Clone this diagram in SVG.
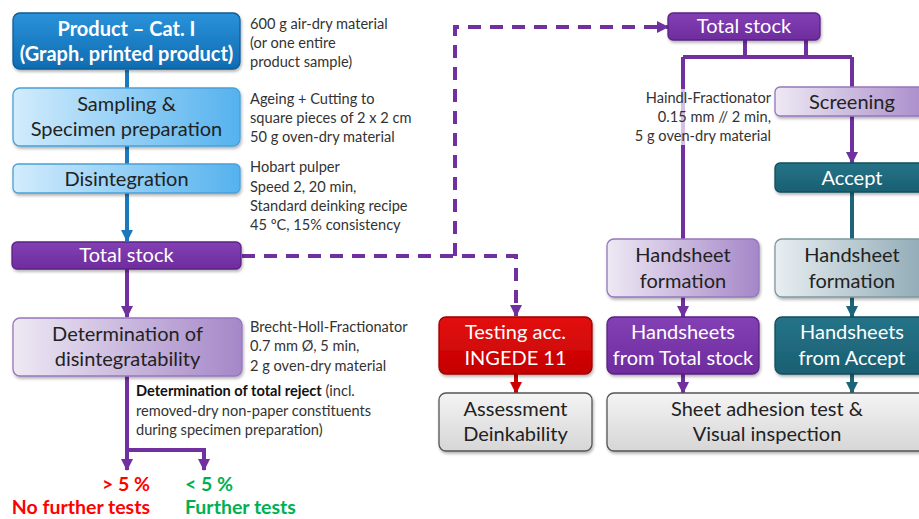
<svg xmlns="http://www.w3.org/2000/svg" width="919" height="519" viewBox="0 0 919 519">
<defs>
<style>
.box{stroke-width:1.3}
.t{font-family:Lato,"Open Sans","Liberation Sans",sans-serif;font-size:20px;text-anchor:middle;fill:#222}
.tw{font-family:Lato,"Open Sans","Liberation Sans",sans-serif;font-size:20px;text-anchor:middle;fill:#fff}
.a{font-family:Lato,"Open Sans","Liberation Sans",sans-serif;font-size:14.6px;fill:#333}
.res{font-family:Lato,"Open Sans","Liberation Sans",sans-serif;font-size:19.5px;font-weight:bold}
.pl{stroke:#7030a0;stroke-width:4;fill:none}
.bl{stroke:#1a78be;stroke-width:4;fill:none}
.tl{stroke:#1d6478;stroke-width:4;fill:none}
.rl{stroke:#cc0000;stroke-width:4;fill:none}
.dash{stroke:#7030a0;stroke-width:4;fill:none;stroke-dasharray:13 9}
</style>
<linearGradient id="gBlue" x1="0" y1="0" x2="0" y2="1"><stop offset="0" stop-color="#2a92da"/><stop offset="1" stop-color="#0f6cb2"/></linearGradient>
<linearGradient id="gLBlue" x1="0" y1="0" x2="1" y2="0"><stop offset="0" stop-color="#d2ecfc"/><stop offset="1" stop-color="#55b2ee"/></linearGradient>
<linearGradient id="gPurple" x1="0" y1="0" x2="0" y2="1"><stop offset="0" stop-color="#8340b4"/><stop offset="1" stop-color="#6e2c9e"/></linearGradient>
<linearGradient id="gLPurple" x1="0" y1="0" x2="1" y2="0"><stop offset="0" stop-color="#eee9f4"/><stop offset="1" stop-color="#a587c8"/></linearGradient>
<linearGradient id="gTeal" x1="0" y1="0" x2="0" y2="1"><stop offset="0" stop-color="#257388"/><stop offset="1" stop-color="#1b5f72"/></linearGradient>
<linearGradient id="gLTeal" x1="0" y1="0" x2="1" y2="0"><stop offset="0" stop-color="#e8eef1"/><stop offset="1" stop-color="#8aa6b2"/></linearGradient>
<linearGradient id="gRed" x1="0" y1="0" x2="0" y2="1"><stop offset="0" stop-color="#e41010"/><stop offset="1" stop-color="#c40000"/></linearGradient>
<linearGradient id="gGrey" x1="0" y1="0" x2="0" y2="1"><stop offset="0" stop-color="#f4f4f4"/><stop offset="1" stop-color="#d6d6d6"/></linearGradient>
<filter id="sh" x="-10%" y="-20%" width="120%" height="150%"><feDropShadow dx="1" dy="2" stdDeviation="1.5" flood-color="#000" flood-opacity="0.3"/></filter>
<marker id="mP" markerUnits="userSpaceOnUse" markerWidth="14" markerHeight="12" refX="11" refY="6" orient="auto"><path d="M0,0 L12,6 L0,12 Z" fill="#7030a0"/></marker>
<marker id="mB" markerUnits="userSpaceOnUse" markerWidth="14" markerHeight="12" refX="11" refY="6" orient="auto"><path d="M0,0 L12,6 L0,12 Z" fill="#1a78be"/></marker>
<marker id="mT" markerUnits="userSpaceOnUse" markerWidth="14" markerHeight="12" refX="11" refY="6" orient="auto"><path d="M0,0 L12,6 L0,12 Z" fill="#1d6478"/></marker>
<marker id="mR" markerUnits="userSpaceOnUse" markerWidth="14" markerHeight="12" refX="11" refY="6" orient="auto"><path d="M0,0 L12,6 L0,12 Z" fill="#cc0000"/></marker>
</defs>
<rect width="919" height="519" fill="#fff"/>

<g id="connectors">
<path class="bl" d="M127,70 V241" marker-end="url(#mB)"/>
<path class="pl" d="M127,269 V317" marker-end="url(#mP)"/>
<path class="pl" d="M127,376 V470" marker-end="url(#mP)"/>
<path class="pl" d="M127,450 H204 V470" marker-end="url(#mP)"/>
<path class="dash" d="M242,256 H516 V316" marker-end="url(#mP)"/>
<path class="dash" d="M455,256 V27 H668" marker-end="url(#mP)"/>
<path class="pl" d="M745,40 V57 M806,40 V57 M683,57 H852 M683,57 V239 M852,57 V87"/>
<path class="pl" d="M852,116 V163" marker-end="url(#mP)"/>
<path class="tl" d="M852,192 V239"/>
<path class="pl" d="M683,297 V317" marker-end="url(#mP)"/>
<path class="tl" d="M852,297 V317" marker-end="url(#mT)"/>
<path class="rl" d="M516,374 V393" marker-end="url(#mR)"/>
<path class="pl" d="M683,374 V393" marker-end="url(#mP)"/>
<path class="tl" d="M852,374 V393" marker-end="url(#mT)"/>
</g>

<g id="product">
<rect class="box" x="13" y="13" width="227" height="56" rx="7" fill="url(#gBlue)" stroke="#0d5c98" filter="url(#sh)"/>
<text class="tw" x="126.5" y="36" font-weight="bold" font-size="21px">Product – Cat. I</text>
<text class="tw" x="126.5" y="61" font-weight="bold" font-size="21px">(Graph. printed product)</text>
</g>
<g id="note-product">
<text class="a" x="250" y="29">600 g air-dry material</text>
<text class="a" x="250" y="48">(or one entire</text>
<text class="a" x="250" y="67">product sample)</text>
</g>

<g id="sampling">
<rect class="box" x="13" y="88" width="227" height="58" rx="7" fill="url(#gLBlue)" stroke="#4aa0d8" filter="url(#sh)"/>
<text class="t" x="126.5" y="111">Sampling &amp;</text>
<text class="t" x="126.5" y="136">Specimen preparation</text>
</g>
<g id="note-sampling">
<text class="a" x="250" y="104">Ageing + Cutting to</text>
<text class="a" x="250" y="123">square pieces of 2 x 2 cm</text>
<text class="a" x="250" y="142">50 g oven-dry material</text>
</g>

<g id="disintegration">
<rect class="box" x="13" y="164" width="227" height="29" rx="5" fill="url(#gLBlue)" stroke="#4aa0d8" filter="url(#sh)"/>
<text class="t" x="126.5" y="186">Disintegration</text>
</g>
<g id="note-disintegration">
<text class="a" x="250" y="172">Hobart pulper</text>
<text class="a" x="250" y="192">Speed 2, 20 min,</text>
<text class="a" x="250" y="211">Standard deinking recipe</text>
<text class="a" x="250" y="230">45 ºC, 15% consistency</text>
</g>

<g id="total-stock-left">
<rect class="box" x="12" y="242" width="229" height="27" rx="5" fill="url(#gPurple)" stroke="#5a2282" filter="url(#sh)"/>
<text class="tw" x="126.5" y="262">Total stock</text>
</g>

<g id="determination">
<rect class="box" x="13" y="318" width="229" height="58" rx="7" fill="url(#gLPurple)" stroke="#9677bd" filter="url(#sh)"/>
<text class="t" x="127.5" y="341">Determination of</text>
<text class="t" x="127.5" y="366">disintegratability</text>
</g>
<g id="note-determination">
<text class="a" x="250" y="332">Brecht-Holl-Fractionator</text>
<text class="a" x="250" y="351">0.7 mm Ø, 5 min,</text>
<text class="a" x="250" y="371">2 g oven-dry material</text>
</g>
<g id="note-reject">
<text class="a" x="136" y="396"><tspan font-weight="bold" fill="#111">Determination of total reject</tspan> (incl.</text>
<text class="a" x="136" y="416">removed-dry non-paper constituents</text>
<text class="a" x="136" y="435">during specimen preparation)</text>
</g>

<g id="result-high">
<text class="res" x="150" y="491" fill="#ff0000" text-anchor="end">&gt; 5 %</text>
<text class="res" x="150" y="514" fill="#ff0000" text-anchor="end">No further tests</text>
</g>
<g id="result-low">
<text class="res" x="185" y="491" fill="#00b050">&lt; 5 %</text>
<text class="res" x="185" y="514" fill="#00b050">Further tests</text>
</g>

<g id="total-stock-right">
<rect class="box" x="668" y="13" width="152" height="27" rx="5" fill="url(#gPurple)" stroke="#5a2282" filter="url(#sh)"/>
<text class="tw" x="744" y="33">Total stock</text>
</g>

<g id="note-haindl">
<rect x="636" y="89" width="136" height="56" fill="#fff" fill-opacity="0.7"/>
<text class="a" x="771" y="103" text-anchor="end">Haindl-Fractionator</text>
<text class="a" x="771" y="122" text-anchor="end">0.15 mm // 2 min,</text>
<text class="a" x="771" y="141" text-anchor="end">5 g oven-dry material</text>
</g>

<g id="screening">
<rect class="box" x="775" y="87" width="160" height="29" rx="5" fill="url(#gLPurple)" stroke="#9677bd" filter="url(#sh)"/>
<text class="t" x="852" y="109">Screening</text>
</g>

<g id="accept">
<rect class="box" x="775" y="163" width="160" height="29" rx="5" fill="url(#gTeal)" stroke="#144e5e" filter="url(#sh)"/>
<text class="tw" x="852" y="185">Accept</text>
</g>

<g id="handsheet-formation-total">
<rect class="box" x="607" y="239" width="152" height="58" rx="7" fill="url(#gLPurple)" stroke="#9677bd" filter="url(#sh)"/>
<text class="t" x="683" y="262">Handsheet</text>
<text class="t" x="683" y="288">formation</text>
</g>

<g id="handsheet-formation-accept">
<rect class="box" x="775" y="239" width="160" height="58" rx="7" fill="url(#gLTeal)" stroke="#7f98a3" filter="url(#sh)"/>
<text class="t" x="852" y="262">Handsheet</text>
<text class="t" x="852" y="288">formation</text>
</g>

<g id="testing">
<rect class="box" x="439" y="317" width="153" height="57" rx="7" fill="url(#gRed)" stroke="#a00000" filter="url(#sh)"/>
<text class="tw" x="515.5" y="339">Testing acc.</text>
<text class="tw" x="515.5" y="365">INGEDE 11</text>
</g>

<g id="handsheets-total">
<rect class="box" x="607" y="317" width="152" height="57" rx="7" fill="url(#gPurple)" stroke="#5a2282" filter="url(#sh)"/>
<text class="tw" x="683" y="339">Handsheets</text>
<text class="tw" x="683" y="365">from Total stock</text>
</g>

<g id="handsheets-accept">
<rect class="box" x="775" y="317" width="160" height="57" rx="7" fill="url(#gTeal)" stroke="#144e5e" filter="url(#sh)"/>
<text class="tw" x="852" y="339">Handsheets</text>
<text class="tw" x="852" y="365">from Accept</text>
</g>

<g id="assessment">
<rect class="box" x="439" y="393" width="153" height="58" rx="7" fill="url(#gGrey)" stroke="#555" filter="url(#sh)"/>
<text class="t" x="515.5" y="416">Assessment</text>
<text class="t" x="515.5" y="441">Deinkability</text>
</g>

<g id="sheet-adhesion">
<rect class="box" x="607" y="393" width="330" height="58" rx="7" fill="url(#gGrey)" stroke="#555" filter="url(#sh)"/>
<text class="t" x="767" y="416">Sheet adhesion test &amp;</text>
<text class="t" x="767" y="441">Visual inspection</text>
</g>
</svg>
